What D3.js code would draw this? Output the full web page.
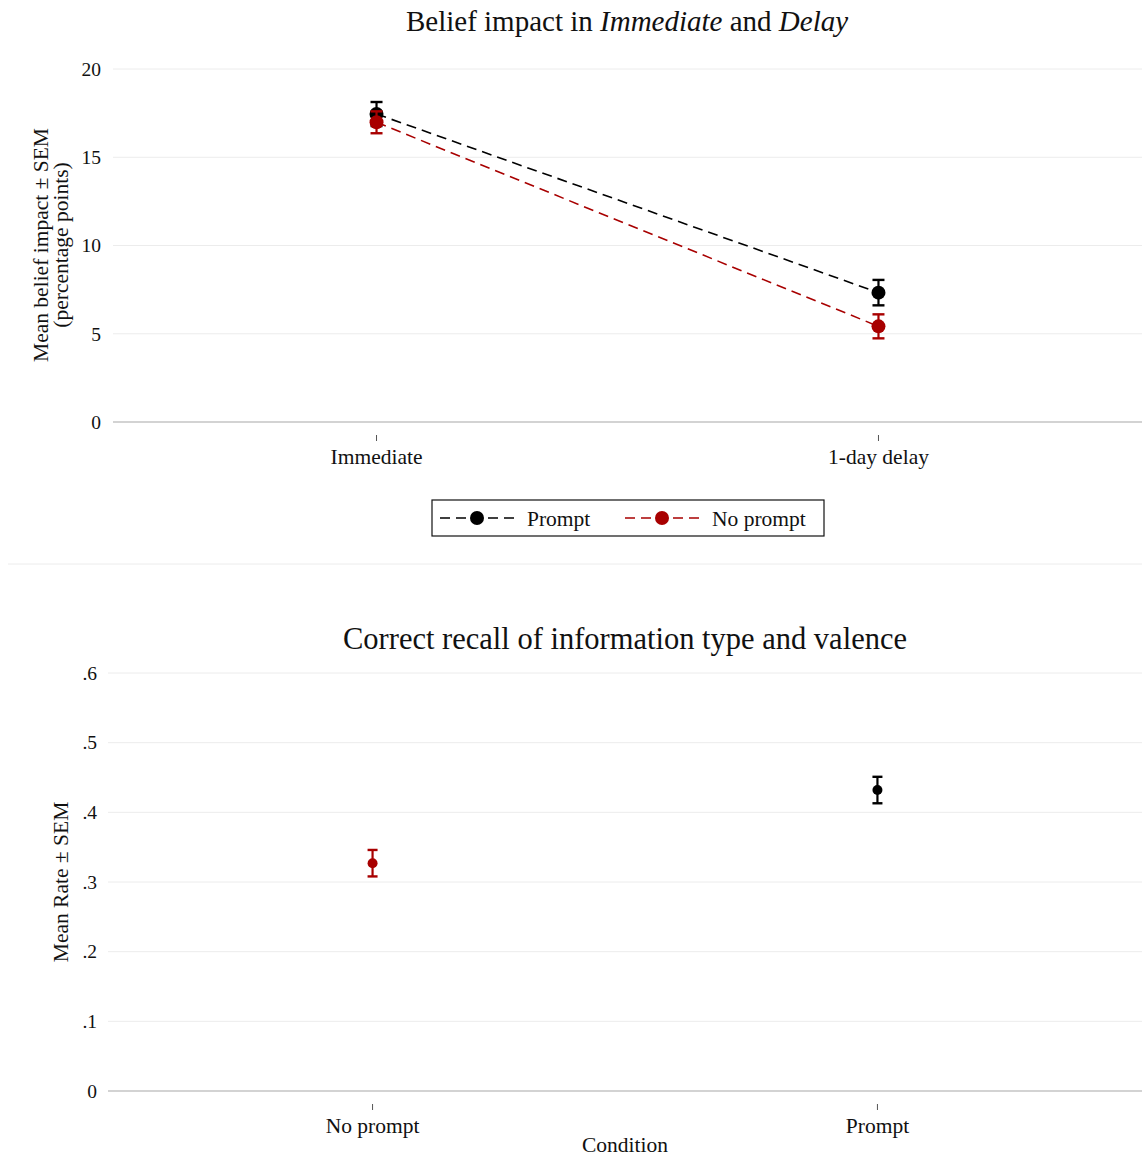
<!DOCTYPE html>
<html>
<head>
<meta charset="utf-8">
<script src="https://cdn.jsdelivr.net/npm/d3@7"></script>
<style>
  body { margin: 0; background: #fff; }
  text { font-family: "Liberation Serif", "DejaVu Serif", serif; fill: #111; }
</style>
</head>
<body>
<div id="chart"></div>
<script>
// top panel data
const phases = ["Immediate", "1-day delay"];
const promptMean = [17.45, 7.33];
const promptSem = [0.68, 0.72];
const noPromptMean = [16.98, 5.42];
const noPromptSem = [0.62, 0.68];
const beliefTicks = [0, 5, 10, 15, 20];

// bottom panel data
const conditions = ["No prompt", "Prompt"];
const recallMean = [0.327, 0.432];
const recallSem = [0.019, 0.019];
const recallTicks = [0, 0.1, 0.2, 0.3, 0.4, 0.5, 0.6];

const red = "#a80000";
const black = "#000";
const labelSize = "21.5px";
const numSize = "19.5px";

const svg = d3.select("#chart").append("svg")
  .attr("width", 1145)
  .attr("height", 1176);

// ---------- top panel ----------
const topPanel = svg.append("g");
const x1 = d3.scalePoint().domain(phases).range([113, 1142]).padding(0.525);
const y1 = d3.scaleLinear().domain([0, 20]).range([422, 69]);

topPanel.append("g")
  .selectAll("line")
  .data(beliefTicks.slice(1))
  .join("line")
  .attr("x1", 113).attr("x2", 1142)
  .attr("y1", d => y1(d)).attr("y2", d => y1(d))
  .attr("stroke", "#ececec");

topPanel.append("line")
  .attr("x1", 113).attr("x2", 1142)
  .attr("y1", y1(0)).attr("y2", y1(0))
  .attr("stroke", "#a8a8a8").attr("stroke-width", 1.2);

topPanel.append("g")
  .selectAll("text")
  .data(beliefTicks)
  .join("text")
  .attr("x", 101)
  .attr("y", d => y1(d))
  .attr("dy", "0.35em")
  .attr("text-anchor", "end")
  .style("font-size", numSize)
  .text(d => d);

const xt1 = topPanel.append("g").selectAll("g").data(phases).join("g")
  .attr("transform", d => `translate(${x1(d)},0)`);
xt1.append("line").attr("y1", 435).attr("y2", 441).attr("stroke", "#555");
xt1.append("text").attr("y", 464).attr("text-anchor", "middle")
  .style("font-size", labelSize).text(d => d);

topPanel.append("text")
  .attr("transform", `translate(48,${245}) rotate(-90)`)
  .attr("text-anchor", "middle")
  .style("font-size", labelSize)
  .text("Mean belief impact \u00b1 SEM");
topPanel.append("text")
  .attr("transform", `translate(68,${245}) rotate(-90)`)
  .attr("text-anchor", "middle")
  .style("font-size", labelSize)
  .text("(percentage points)");

const t1 = topPanel.append("text")
  .attr("x", 627).attr("y", 31)
  .attr("text-anchor", "middle")
  .style("font-size", "29px");
t1.append("tspan").text("Belief impact in ");
t1.append("tspan").style("font-style", "italic").text("Immediate");
t1.append("tspan").text(" and ");
t1.append("tspan").style("font-style", "italic").text("Delay");

const series = [
  { name: "Prompt", mean: promptMean, sem: promptSem, color: black },
  { name: "No prompt", mean: noPromptMean, sem: noPromptSem, color: red }
];

const line = d3.line().x((d, i) => x1(phases[i])).y(d => y1(d));

series.forEach(s => {
  const g = topPanel.append("g");
  g.append("path")
    .attr("d", line(s.mean))
    .attr("fill", "none")
    .attr("stroke", s.color)
    .attr("stroke-width", 1.6)
    .attr("stroke-dasharray", "10,6");
  const pts = g.selectAll("g.pt").data(s.mean).join("g")
    .attr("transform", (d, i) => `translate(${x1(phases[i])},0)`);
  pts.append("line")
    .attr("y1", (d, i) => y1(d + s.sem[i]))
    .attr("y2", (d, i) => y1(d - s.sem[i]))
    .attr("stroke", s.color).attr("stroke-width", 2.2);
  [1, -1].forEach(sign => {
    pts.append("line")
      .attr("x1", -6).attr("x2", 6)
      .attr("y1", (d, i) => y1(d + sign * s.sem[i]))
      .attr("y2", (d, i) => y1(d + sign * s.sem[i]))
      .attr("stroke", s.color).attr("stroke-width", 2.4);
  });
  pts.append("circle")
    .attr("cy", d => y1(d))
    .attr("r", 7)
    .attr("fill", s.color);
});

// legend
const legend = topPanel.append("g");
legend.append("rect")
  .attr("x", 432).attr("y", 500).attr("width", 392).attr("height", 36)
  .attr("fill", "#fff").attr("stroke", "#111").attr("stroke-width", 1.2);
const legendX = [440, 625];
series.forEach((s, i) => {
  const lg = legend.append("g").attr("transform", `translate(${legendX[i]},518)`);
  lg.append("line").attr("x1", 0).attr("x2", 74)
    .attr("stroke", s.color).attr("stroke-width", 1.6)
    .attr("stroke-dasharray", "10,6");
  lg.append("circle").attr("cx", 37).attr("r", 7).attr("fill", s.color);
  lg.append("text").attr("x", 87).attr("dy", "0.35em")
    .style("font-size", labelSize).text(s.name);
});

svg.append("line")
  .attr("x1", 8).attr("x2", 1142).attr("y1", 564).attr("y2", 564)
  .attr("stroke", "#ececec");

// ---------- bottom panel ----------
const bot = svg.append("g");
const x2 = d3.scalePoint().domain(conditions).range([108, 1142]).padding(0.524);
const y2 = d3.scaleLinear().domain([0, 0.6]).range([1091, 673]);
const fmt = d => d === 0 ? "0" : d3.format(".1f")(d).replace(/^0/, "");

bot.append("g")
  .selectAll("line")
  .data(recallTicks.slice(1))
  .join("line")
  .attr("x1", 108).attr("x2", 1142)
  .attr("y1", d => y2(d)).attr("y2", d => y2(d))
  .attr("stroke", "#ececec");

bot.append("line")
  .attr("x1", 108).attr("x2", 1142)
  .attr("y1", y2(0)).attr("y2", y2(0))
  .attr("stroke", "#a8a8a8").attr("stroke-width", 1.2);

bot.append("g")
  .selectAll("text")
  .data(recallTicks)
  .join("text")
  .attr("x", 97)
  .attr("y", d => y2(d))
  .attr("dy", "0.35em")
  .attr("text-anchor", "end")
  .style("font-size", numSize)
  .text(fmt);

const xt2 = bot.append("g").selectAll("g").data(conditions).join("g")
  .attr("transform", d => `translate(${x2(d)},0)`);
xt2.append("line").attr("y1", 1104).attr("y2", 1110).attr("stroke", "#555");
xt2.append("text").attr("y", 1133).attr("text-anchor", "middle")
  .style("font-size", labelSize).text(d => d);

bot.append("text")
  .attr("x", 625).attr("y", 1152)
  .attr("text-anchor", "middle")
  .style("font-size", labelSize)
  .text("Condition");

bot.append("text")
  .attr("transform", `translate(68,882) rotate(-90)`)
  .attr("text-anchor", "middle")
  .style("font-size", labelSize)
  .text("Mean Rate  \u00b1 SEM");

bot.append("text")
  .attr("x", 625).attr("y", 649)
  .attr("text-anchor", "middle")
  .style("font-size", "30.5px")
  .text("Correct recall of information type and valence");

const recallColor = [red, black];
const rp = bot.append("g").selectAll("g").data(recallMean).join("g")
  .attr("transform", (d, i) => `translate(${x2(conditions[i])},0)`);
rp.append("line")
  .attr("y1", (d, i) => y2(d + recallSem[i]))
  .attr("y2", (d, i) => y2(d - recallSem[i]))
  .attr("stroke", (d, i) => recallColor[i]).attr("stroke-width", 2.2);
[1, -1].forEach(sign => {
  rp.append("line")
    .attr("x1", -5).attr("x2", 5)
    .attr("y1", (d, i) => y2(d + sign * recallSem[i]))
    .attr("y2", (d, i) => y2(d + sign * recallSem[i]))
    .attr("stroke", (d, i) => recallColor[i]).attr("stroke-width", 2.4);
});
rp.append("circle")
  .attr("cy", d => y2(d))
  .attr("r", 5)
  .attr("fill", (d, i) => recallColor[i]);
</script>
</body>
</html>
